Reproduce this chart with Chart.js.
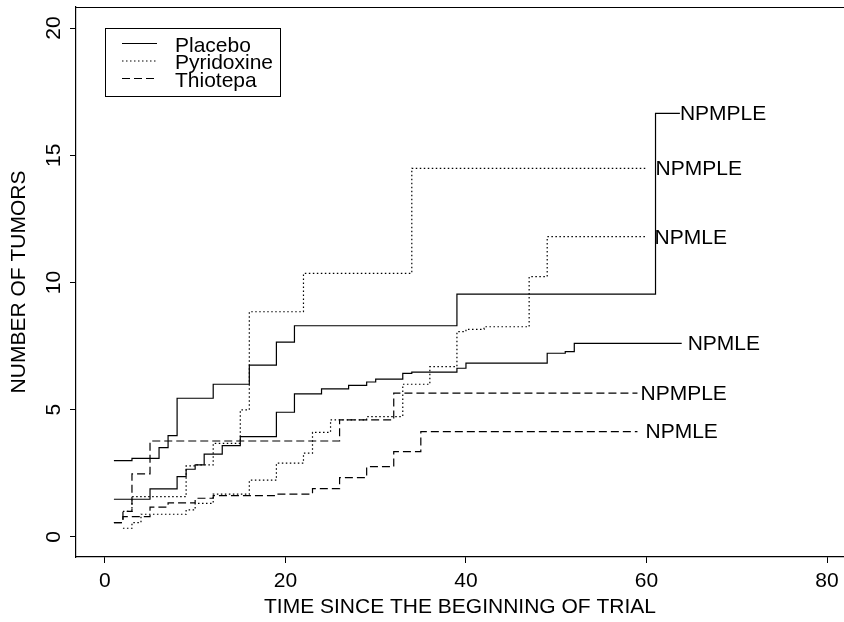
<!DOCTYPE html>
<html>
<head>
<meta charset="utf-8">
<script src="https://cdn.jsdelivr.net/npm/chart.js@4/dist/chart.umd.min.js"></script>
<style>
  html, body { margin: 0; padding: 0; background: #fff; }
</style>
</head>
<body>
<canvas id="myChart" width="844" height="622"></canvas>
<script>
// ejes
const xTicks = [0, 20, 40, 60, 80];
const yTicks = [0, 5, 10, 15, 20];

// Placebo
const placeboPleX = [1, 3, 6, 7, 8, 12, 16, 19, 21, 39, 61, 63.7];
const placeboPleY = [3.0, 3.09, 3.51, 3.98, 5.45, 6.0, 6.75, 7.66, 8.30, 9.54, 16.65, 16.65];
const placeboMleX = [1, 5, 8, 9, 10, 11, 13, 15, 19, 21, 24, 27, 29, 30, 33, 34, 39, 40, 49, 51, 52, 63.9];
const placeboMleY = [1.48, 1.89, 2.37, 2.66, 2.83, 3.25, 3.59, 3.94, 4.90, 5.62, 5.82, 5.96, 6.09, 6.20, 6.43, 6.48, 6.63, 6.83, 7.22, 7.28, 7.61, 7.61];

// Pyridoxine
const pyriPleX = [2, 3, 9, 10, 12, 15, 16, 22, 34, 59.9];
const pyriPleY = [1.0, 1.58, 2.79, 2.83, 3.68, 4.99, 8.85, 10.36, 14.49, 14.49];
const pyriMleX = [2, 3, 4, 9, 10, 12, 16, 19, 22, 23, 25, 29, 33, 36, 39, 40, 42, 47, 49, 59.9];
const pyriMleY = [0.34, 0.56, 0.89, 1.06, 1.32, 1.68, 2.23, 2.90, 3.29, 4.11, 4.60, 4.73, 6.0, 6.69, 8.07, 8.16, 8.26, 10.23, 11.80, 11.80];

// Thiotepa
const thioPleX = [1, 2, 3, 5, 26, 32, 59];
const thioPleY = [0.56, 1.0, 2.48, 3.77, 4.60, 5.65, 5.65];
const thioMleX = [1, 2, 5, 7, 10, 12, 19, 23, 26, 29, 32, 35, 59];
const thioMleY = [0.56, 0.80, 1.17, 1.34, 1.52, 1.62, 1.68, 1.90, 2.33, 2.76, 3.35, 4.14, 4.14];

const legendLabels = ['Placebo', 'Pyridoxine', 'Thiotepa'];
const curveLabels = ['NPMPLE', 'NPMLE', 'NPMPLE', 'NPMLE', 'NPMPLE', 'NPMLE'];

const FONT = '"Liberation Sans", Arial, Helvetica, sans-serif';
const dashes = [[], [1.5, 2.5], [8, 4]]; // solido, punteado, guiones

function pts(xs, ys) {
  return xs.map((v, i) => ({ x: v, y: ys[i] }));
}

function serie(xs, ys, grupo, etiqueta, gap) {
  return {
    data: pts(xs, ys),
    showLine: true,
    stepped: 'before',
    borderColor: '#000',
    borderWidth: 1.2,
    borderDash: dashes[grupo],
    pointRadius: 0,
    fill: false,
    endLabel: etiqueta,
    labelGap: gap
  };
}

// etiquetas al final de cada curva, marco superior y leyenda
const extras = {
  id: 'extras',
  afterDatasetsDraw(chart) {
    const { ctx, chartArea: a, scales: { x, y } } = chart;
    ctx.save();
    ctx.strokeStyle = '#000';
    ctx.lineWidth = 1.2;
    ctx.beginPath();
    ctx.moveTo(a.left, a.top + 0.5);
    ctx.lineTo(a.right, a.top + 0.5);
    ctx.stroke();

    ctx.fillStyle = '#000';
    ctx.font = '21px ' + FONT;
    ctx.textAlign = 'left';
    ctx.textBaseline = 'middle';
    chart.data.datasets.forEach(ds => {
      const last = ds.data[ds.data.length - 1];
      ctx.fillText(ds.endLabel, x.getPixelForValue(last.x) + ds.labelGap, y.getPixelForValue(last.y) + 1);
    });

    // leyenda
    ctx.lineWidth = 1;
    ctx.strokeRect(105.5, 28.5, 175, 68);
    legendLabels.forEach((lab, i) => {
      const ry = 43.5 + i * 17.5;
      ctx.setLineDash(dashes[i]);
      ctx.lineWidth = 1.2;
      ctx.beginPath();
      ctx.moveTo(122, ry);
      ctx.lineTo(157, ry);
      ctx.stroke();
      ctx.setLineDash([]);
      ctx.textBaseline = 'alphabetic';
      ctx.fillText(lab, 175, ry + 8);
    });
    ctx.restore();
  }
};

const ctx = document.getElementById('myChart');

new Chart(ctx, {
  type: 'scatter',
  data: {
    datasets: [
      serie(placeboPleX, placeboPleY, 0, curveLabels[0], 0),
      serie(placeboMleX, placeboMleY, 0, curveLabels[1], 6),
      serie(pyriPleX, pyriPleY, 1, curveLabels[2], 10),
      serie(pyriMleX, pyriMleY, 1, curveLabels[3], 9),
      serie(thioPleX, thioPleY, 2, curveLabels[4], 3),
      serie(thioMleX, thioMleY, 2, curveLabels[5], 8)
    ]
  },
  options: {
    responsive: false,
    animation: false,
    devicePixelRatio: 1,
    layout: { padding: { top: 7, right: 0, left: 0, bottom: 0 } },
    plugins: { legend: { display: false }, tooltip: { enabled: false } },
    scales: {
      x: {
        type: 'linear',
        min: -3.2,
        max: 81.88,
        afterBuildTicks: s => { s.ticks = xTicks.map(v => ({ value: v })); },
        afterFit: s => { s.height = 65; s.paddingLeft = 0; s.paddingRight = 0; },
        grid: { drawOnChartArea: false, drawTicks: true, tickLength: 6, color: '#000' },
        border: { display: true, color: '#000', width: 1.2 },
        ticks: { color: '#000', font: { family: FONT, size: 21 }, padding: 6, maxRotation: 0, autoSkip: false },
        title: { display: true, text: 'TIME SINCE THE BEGINNING OF TRIAL', color: '#000', font: { family: FONT, size: 21 }, padding: { top: 0, bottom: 2 } }
      },
      y: {
        type: 'linear',
        min: -0.79,
        max: 20.83,
        afterBuildTicks: s => { s.ticks = yTicks.map(v => ({ value: v })); },
        afterFit: s => { s.width = 76; s.paddingTop = 0; s.paddingBottom = 0; },
        grid: { drawOnChartArea: false, drawTicks: true, tickLength: 6, color: '#000' },
        border: { display: true, color: '#000', width: 1.2 },
        ticks: { color: '#000', font: { family: FONT, size: 21 }, padding: 4, minRotation: 90, maxRotation: 90, crossAlign: 'center', autoSkip: false },
        title: { display: true, text: 'NUMBER OF TUMORS', color: '#000', font: { family: FONT, size: 21 }, padding: { top: 7, bottom: 0 } }
      }
    }
  },
  plugins: [extras]
});
</script>
</body>
</html>
